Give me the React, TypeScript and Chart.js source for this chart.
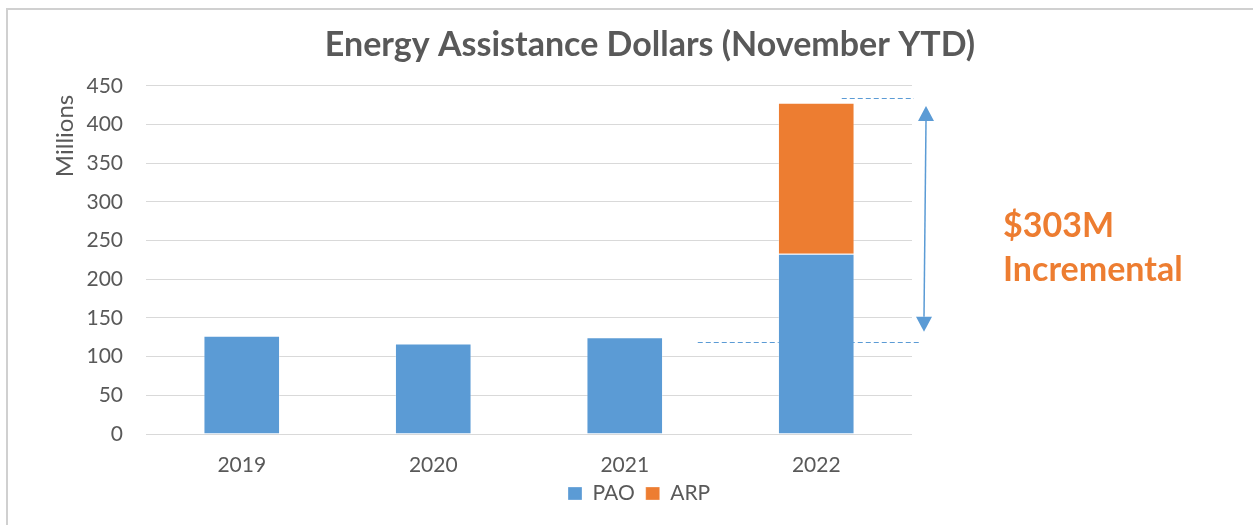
import { useEffect, useRef } from 'react';
import { Chart, registerables } from 'chart.js';

Chart.register(...registerables);

// ---- data ----
const categories = ['2019', '2020', '2021', '2022'];
const seriesNames = ['PAO', 'ARP'];
const paoValues = [127, 117, 125, 233];
const arpValues: (number | null)[] = [null, null, null, 195];
const yMin = 0;
const yMax = 450;
const yStep = 50;
const chartTitle = 'Energy Assistance Dollars (November YTD)';
const yAxisTitle = 'Millions';
// annotation values (in Millions)
const guideLineValues = [434, 119]; // top, bottom dashed guide
const arrowValues = [424, 132]; // arrow tips top, bottom
const calloutLines = ['$303M', 'Incremental'];

// ---- styles ----
const BLUE = '#5B9BD5';
const ORANGE = '#ED7D31';
const TEXT = '#595959';
const GRID = '#D9D9D9';
const FRAME = '#D0D0D0';
const FONT = 'Lato, "Open Sans", sans-serif';

const nudgePlugin = {
  id: 'nudge',
  afterLayout(chart: any) {
    const t = chart.titleBlock;
    if (t) {
      const dx = 650 - (t.left + t.right) / 2;
      t.left += dx;
      t.right += dx;
    }
    const l = chart.legend;
    if (l && l.lineWidths) {
      const pad = l.options.labels.padding;
      const lw = l.lineWidths[0];
      const w = l.right - l.left;
      const left = (2 * 568 - pad + lw - w) / 2;
      l.left = left;
      l.right = left + w;
      l.top = 493.5 - pad - l.options.labels.font.size / 2;
      l.bottom = l.top + 60;
    }
    const y = chart.scales.y;
    if (y) {
      y.top += 9;
    }
  },
};

const annotationPlugin = {
  id: 'incremental',
  beforeDatasetsDraw(chart: any) {
    const { ctx, chartArea, scales } = chart;
    const x = scales.x;
    const y = scales.y;
    const cx = x.getPixelForValue(3);
    ctx.save();
    ctx.strokeStyle = BLUE;
    ctx.lineWidth = 1;
    ctx.setLineDash([5, 3]);
    const yTop = Math.round(y.getPixelForValue(guideLineValues[0])) + 0.5;
    ctx.beginPath();
    ctx.moveTo(cx + 25.5, yTop);
    ctx.lineTo(chartArea.right + 2, yTop);
    ctx.stroke();
    const yBot = Math.round(y.getPixelForValue(guideLineValues[1])) + 0.5;
    ctx.beginPath();
    ctx.moveTo(cx - 118.5, yBot);
    ctx.lineTo(chartArea.right + 8, yBot);
    ctx.stroke();
    ctx.restore();
  },
  afterDatasetsDraw(chart: any) {
    const { ctx, chartArea, scales } = chart;
    const y = scales.y;
    const tipTop = y.getPixelForValue(arrowValues[0]);
    const tipBot = y.getPixelForValue(arrowValues[1]);
    const xTop = chartArea.right + 14;
    const xBot = chartArea.right + 12;
    const headH = 15;
    const headW = 8;
    ctx.save();
    ctx.strokeStyle = BLUE;
    ctx.fillStyle = BLUE;
    ctx.lineWidth = 1.5;
    ctx.beginPath();
    ctx.moveTo(xTop, tipTop + headH);
    ctx.lineTo(xBot, tipBot - headH);
    ctx.stroke();
    ctx.beginPath();
    ctx.moveTo(xTop, tipTop);
    ctx.lineTo(xTop + headW, tipTop + headH);
    ctx.lineTo(xTop - headW, tipTop + headH);
    ctx.closePath();
    ctx.fill();
    ctx.beginPath();
    ctx.moveTo(xBot, tipBot);
    ctx.lineTo(xBot + headW, tipBot - headH);
    ctx.lineTo(xBot - headW, tipBot - headH);
    ctx.closePath();
    ctx.fill();
    ctx.restore();
  },
  afterDraw(chart: any) {
    const { ctx, chartArea } = chart;
    ctx.save();
    ctx.fillStyle = ORANGE;
    ctx.font = `bold 34px ${FONT}`;
    ctx.textBaseline = 'alphabetic';
    ctx.textAlign = 'left';
    const tx = chartArea.right + 91;
    ctx.fillText(calloutLines[0], tx, 237);
    ctx.fillText(calloutLines[1], tx, 281);
    ctx.restore();
  },
};

export default function App() {
  const canvasRef = useRef<HTMLCanvasElement | null>(null);

  useEffect(() => {
    if (!canvasRef.current) return;
    const chart = new Chart(canvasRef.current, {
      type: 'bar',
      data: {
        labels: categories,
        datasets: [
          {
            label: seriesNames[0],
            data: paoValues,
            backgroundColor: BLUE,
            borderColor: 'rgba(255,255,255,0.3)',
            borderWidth: 1,
            barPercentage: 0.4,
            categoryPercentage: 1,
          },
          {
            label: seriesNames[1],
            data: arpValues,
            backgroundColor: ORANGE,
            borderColor: 'rgba(255,255,255,0.3)',
            borderWidth: 1,
            barPercentage: 0.4,
            categoryPercentage: 1,
          },
        ],
      },
      options: {
        responsive: false,
        maintainAspectRatio: false,
        animation: false,
        devicePixelRatio: 1,
        layout: { padding: { left: 0, right: 341, top: 0, bottom: 0 } },
        plugins: {
          title: {
            display: true,
            text: chartTitle,
            color: TEXT,
            font: { family: FONT, size: 34, weight: 'bold' },
            padding: { top: 25, bottom: 20 },
          },
          legend: {
            display: true,
            position: 'bottom',
            maxHeight: 20,
            labels: {
              color: TEXT,
              font: { family: FONT, size: 21 },
              boxWidth: 14,
              boxHeight: 13,
              padding: 11,
            },
          },
          tooltip: { enabled: false },
        },
        scales: {
          x: {
            stacked: true,
            grid: { display: false, drawTicks: false },
            border: { display: false },
            ticks: {
              color: TEXT,
              font: { family: FONT, size: 21 },
              padding: 19,
            },
            afterFit: (s: any) => {
              s.height = 71;
            },
          },
          y: {
            stacked: true,
            min: yMin,
            max: yMax,
            ticks: {
              stepSize: yStep,
              color: TEXT,
              font: { family: FONT, size: 21 },
              padding: 23,
            },
            grid: { color: GRID, lineWidth: 1, drawTicks: false },
            border: { display: false },
            title: {
              display: true,
              text: yAxisTitle,
              align: 'end',
              color: TEXT,
              font: { family: FONT, size: 24 },
              padding: { top: 51, bottom: 0 },
            },
            afterFit: (s: any) => {
              s.width = 146;
            },
          },
        },
      },
      plugins: [nudgePlugin, annotationPlugin],
    });
    return () => chart.destroy();
  }, []);

  return (
    <div
      style={{
        position: 'fixed',
        left: 0,
        top: 0,
        width: 1253,
        height: 525,
        overflow: 'hidden',
        background: '#fff',
      }}
    >
      <canvas
        ref={canvasRef}
        width={1253}
        height={525}
        style={{ position: 'absolute', left: 0, top: 0, width: 1253, height: 525 }}
      />
      <div
        style={{
          position: 'absolute',
          left: 6,
          top: 8,
          width: 1247,
          height: 2,
          background: FRAME,
        }}
      />
      <div
        style={{
          position: 'absolute',
          left: 6,
          top: 8,
          width: 2,
          height: 517,
          background: FRAME,
        }}
      />
    </div>
  );
}
